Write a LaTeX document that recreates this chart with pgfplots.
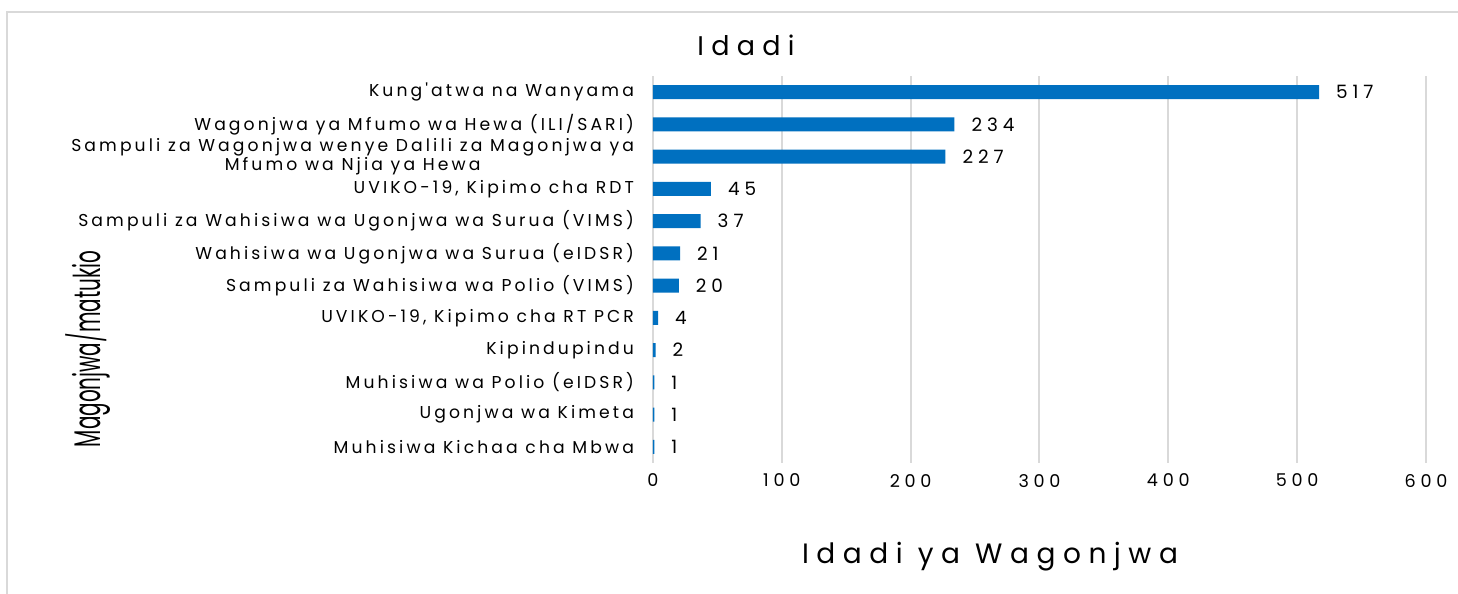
\documentclass[border=0pt]{standalone}
\usepackage{fontspec}
\setmainfont{Poppins}
\newfontfamily\wide[LetterSpace=18]{Poppins}
\newfontfamily\wider[LetterSpace=27]{Poppins}
\usepackage{pgfplots}
\pgfplotsset{compat=1.18}
\definecolor{barblue}{HTML}{0070C0}
\definecolor{gridgray}{HTML}{D9D9D9}
\begin{document}
\begin{tikzpicture}
% 1 px of the reference = 0.5pt, origin at the lower left of the plot box
\useasboundingbox (-326.5pt,-65.5pt) rectangle (402.5pt,231.5pt);
\fill[white] (-326.5pt,-65.5pt) rectangle (402.5pt,231.5pt);
\draw[gridgray, line width=0.6pt] (-323pt,-80pt) -- (-323pt,225.5pt) -- (420pt,225.5pt);
\begin{axis}[
	scale only axis,
	width=386.5pt, height=193.5pt,
	xbar, bar width=7pt,
	xmin=0, xmax=600,
	ymin=-0.5, ymax=11.5,
	y dir=reverse,
	xtick={0,100,...,600},
	ytick={0,...,11},
	yticklabels={
		Kung'atwa na Wanyama,
		Wagonjwa ya Mfumo wa Hewa (ILI/SARI),
		{Sampuli za Wagonjwa wenye Dalili za Magonjwa ya\\Mfumo wa Njia ya Hewa},
		{UVIKO-19, Kipimo cha RDT},
		Sampuli za Wahisiwa wa Ugonjwa wa Surua (VIMS),
		Wahisiwa wa Ugonjwa wa Surua (eIDSR),
		Sampuli za Wahisiwa wa Polio (VIMS),
		{UVIKO-19, Kipimo cha RT PCR},
		Kipindupindu,
		Muhisiwa wa Polio (eIDSR),
		Ugonjwa wa Kimeta,
		Muhisiwa Kichaa cha Mbwa},
	yticklabel style={font=\wide\fontsize{8.6}{8.5}\selectfont, align=center, xshift=-6pt},
	xticklabel style={font=\wider\fontsize{8.8}{9}\selectfont, yshift=-2pt},
	/pgf/number format/assume math mode=true,
	major tick length=0pt,
	axis line style={draw=none},
	xmajorgrids=true,
	grid style={gridgray, line width=1pt},
	nodes near coords,
	nodes near coords style={font=\wider\fontsize{9.2}{10}\selectfont, anchor=west, xshift=5pt, black},
	point meta=explicit symbolic,
]
\addplot[fill=barblue, draw=none] coordinates {
(517,0) [517]
(234,1) [234]
(227,2) [227]
(45,3) [45]
(37,4) [37]
(21,5) [21]
(20,6) [20]
(4,7) [4]
(2,8) [2]
(1,9) [1]
(1,10) [1]
(1,11) [1]
};
\end{axis}
\node[font=\wider\fontsize{13.5}{15}\selectfont] at (46.5pt,209pt) {Idadi};
\node[font=\wider\fontsize{14}{16}\selectfont] at (168.5pt,-47pt) {Idadi ya Wagonjwa};
\node[rotate=90, font=\fontsize{18.5}{20}\selectfont] at (-282.5pt,57pt) {\scalebox{0.54}[1]{Magonjwa/matukio}};
\end{tikzpicture}
\end{document}
